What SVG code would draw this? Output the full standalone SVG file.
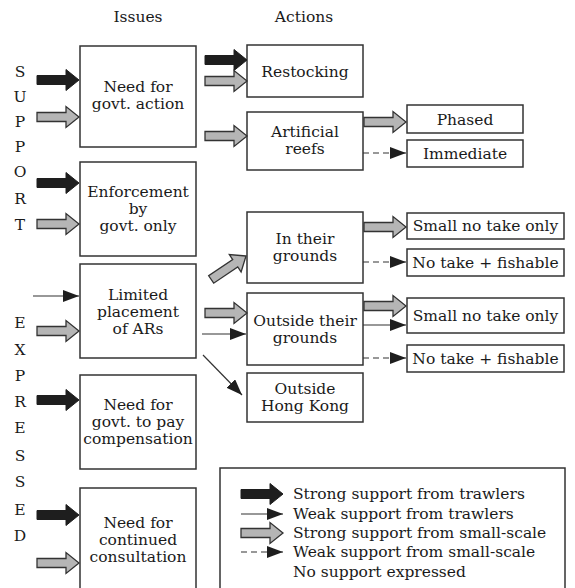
<svg xmlns="http://www.w3.org/2000/svg" xmlns:xlink="http://www.w3.org/1999/xlink" width="575" height="588" viewBox="0 0 575 588">
<style>
text{font-family:"DejaVu Serif","Liberation Serif",serif;font-size:15.5px;fill:#1a1a1a;text-anchor:middle}
.lt{text-anchor:start}
.box{fill:#fff;stroke:#333;stroke-width:1.5}
.thin{stroke:#333;stroke-width:1.2;fill:none;marker-end:url(#tri)}
.dash{stroke:#333;stroke-width:1.2;fill:none;stroke-dasharray:6,4;marker-end:url(#tri)}
.blk{fill:#1e1e1e;stroke:#1e1e1e;stroke-width:1}
.gry{fill:#b5b5b5;stroke:#333;stroke-width:1.3}
</style>
<defs>
<path id="ba" d="M0,0 L-13,-10.5 L-13,-4.5 L-42,-4.5 L-42,4.5 L-13,4.5 L-13,10.5 Z"/>
<marker id="tri" markerUnits="userSpaceOnUse" markerWidth="16" markerHeight="12" refX="16" refY="6" orient="auto"><path d="M0,0 L16,6 L0,12 Z" fill="#1e1e1e"/></marker>
</defs>
<g id="headers"><text x="138" y="22">Issues</text><text x="304" y="22">Actions</text></g>
<g id="side-support"><text x="20" y="77">S</text><text x="20" y="102">U</text><text x="20" y="127">P</text><text x="20" y="152">P</text><text x="20" y="177">O</text><text x="20" y="204">R</text><text x="20" y="230">T</text></g>
<g id="side-expressed"><text x="20" y="328">E</text><text x="20" y="355">X</text><text x="20" y="381">P</text><text x="20" y="407">R</text><text x="20" y="433">E</text><text x="20" y="461">S</text><text x="20" y="487">S</text><text x="20" y="515">E</text><text x="20" y="541">D</text></g>
<g id="n-govt-action"><rect class="box" x="80" y="46" width="116" height="101"/><text x="138" y="92">Need for</text><text x="138" y="109">govt. action</text></g>
<g id="n-enforcement"><rect class="box" x="80" y="162" width="116" height="94"/><text x="138" y="197">Enforcement</text><text x="138" y="214">by</text><text x="138" y="231">govt. only</text></g>
<g id="n-limited"><rect class="box" x="80" y="264" width="116" height="94"/><text x="138" y="300">Limited</text><text x="138" y="317">placement</text><text x="138" y="334">of ARs</text></g>
<g id="n-compensation"><rect class="box" x="80" y="375" width="116" height="94"/><text x="138" y="410">Need for</text><text x="138" y="427">govt. to pay</text><text x="138" y="444">compensation</text></g>
<g id="n-consultation"><rect class="box" x="80" y="488" width="116" height="120"/><text x="138" y="528">Need for</text><text x="138" y="545">continued</text><text x="138" y="562">consultation</text></g>
<g id="n-restocking"><rect class="box" x="247" y="45" width="116" height="52"/><text x="305" y="77">Restocking</text></g>
<g id="n-reefs"><rect class="box" x="247" y="112" width="116" height="58"/><text x="305" y="137">Artificial</text><text x="305" y="154">reefs</text></g>
<g id="n-phased"><rect class="box" x="407" y="105" width="116" height="28"/><text x="465" y="125">Phased</text></g>
<g id="n-immediate"><rect class="box" x="407" y="140" width="116" height="27"/><text x="465" y="159">Immediate</text></g>
<g id="n-in-grounds"><rect class="box" x="247" y="212" width="116" height="71"/><text x="305" y="244">In their</text><text x="305" y="261">grounds</text></g>
<g id="n-small1"><rect class="box" x="407" y="213" width="157" height="26"/><text x="485.5" y="231">Small no take only</text></g>
<g id="n-fish1"><rect class="box" x="407" y="249" width="157" height="27"/><text x="485.5" y="268">No take + fishable</text></g>
<g id="n-outside"><rect class="box" x="247" y="293" width="116" height="72"/><text x="305" y="326">Outside their</text><text x="305" y="343">grounds</text></g>
<g id="n-small2"><rect class="box" x="407" y="298" width="157" height="35"/><text x="485.5" y="321">Small no take only</text></g>
<g id="n-fish2"><rect class="box" x="407" y="345" width="157" height="27"/><text x="485.5" y="364">No take + fishable</text></g>
<g id="n-hk"><rect class="box" x="247" y="373" width="116" height="49"/><text x="305" y="394">Outside</text><text x="305" y="411">Hong Kong</text></g>
<g id="connectors">
<use href="#ba" class="blk" x="79" y="80"/>
<use href="#ba" class="gry" x="79" y="117"/>
<use href="#ba" class="blk" x="79" y="183"/>
<use href="#ba" class="gry" x="79" y="224"/>
<line class="thin" x1="33" y1="296" x2="79" y2="296"/>
<use href="#ba" class="gry" x="79" y="331"/>
<use href="#ba" class="blk" x="79" y="400"/>
<use href="#ba" class="blk" x="79" y="515"/>
<use href="#ba" class="gry" x="79" y="563"/>
<use href="#ba" class="blk" x="247" y="60"/>
<use href="#ba" class="gry" x="247" y="81"/>
<use href="#ba" class="gry" x="247" y="136"/>
<use href="#ba" class="gry" x="406" y="122"/>
<line class="dash" x1="363" y1="153" x2="406" y2="153"/>
<use href="#ba" class="gry" transform="translate(246,256) rotate(-34)"/>
<use href="#ba" class="gry" x="406" y="227"/>
<line class="dash" x1="363" y1="262" x2="406" y2="262"/>
<use href="#ba" class="gry" x="247" y="313"/>
<line class="thin" x1="202" y1="334" x2="246" y2="334"/>
<line class="thin" x1="203" y1="355" x2="242" y2="395"/>
<use href="#ba" class="gry" x="406" y="306"/>
<line class="thin" x1="363" y1="325" x2="406" y2="325"/>
<line class="dash" x1="363" y1="358" x2="406" y2="358"/>
</g>
<g id="legend">
<rect class="box" x="220" y="468" width="345" height="140"/>
<use href="#ba" class="blk" x="283" y="494"/>
<line class="thin" x1="241" y1="514" x2="283" y2="514"/>
<use href="#ba" class="gry" x="283" y="533"/>
<line class="dash" x1="241" y1="552" x2="283" y2="552"/>
<text class="lt" x="293" y="499">Strong support from trawlers</text>
<text class="lt" x="293" y="519">Weak support from trawlers</text>
<text class="lt" x="293" y="538">Strong support from small-scale</text>
<text class="lt" x="293" y="557">Weak support from small-scale</text>
<text class="lt" x="293" y="577">No support expressed</text>
</g>
</svg>
